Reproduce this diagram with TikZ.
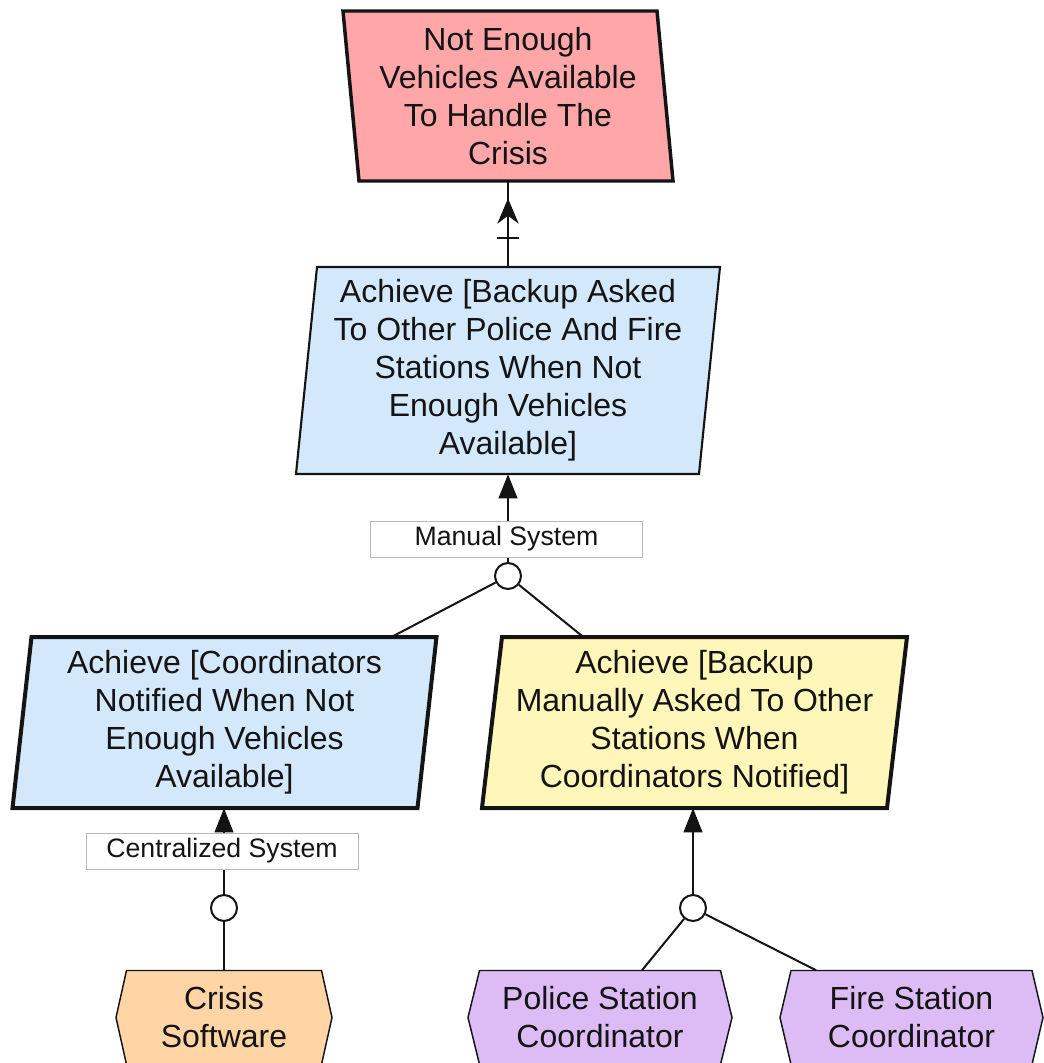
\documentclass[tikz,border=0pt]{standalone}
\usepackage{fontspec}
\setmainfont{Liberation Sans}
\usetikzlibrary{arrows.meta,calc,backgrounds,decorations.markings}

\definecolor{obstaclered}{RGB}{255,166,168}
\definecolor{goalblue}{RGB}{212,232,252}
\definecolor{expectyellow}{RGB}{255,246,186}
\definecolor{softorange}{RGB}{255,213,166}
\definecolor{agentpurple}{RGB}{221,187,245}
\definecolor{inkline}{RGB}{20,20,20}

% slanted box around a node: name, half width, half height, slant, style
\newcommand{\slantshape}[5]{%
  \path[#5] ($(#1)+({-(#2)+(#4)},{-(#3)})$) -- ($(#1)+({(#2)+(#4)},{-(#3)})$)
    -- ($(#1)+({(#2)-(#4)},{#3})$) -- ($(#1)+({-(#2)-(#4)},{#3})$) -- cycle;}
% agent hexagon around a node: name, half top width, half point width, half height, style
\newcommand{\hexshape}[5]{%
  \path[#5] ($(#1)+({-(#2)},{-(#4)})$) -- ($(#1)+({#2},{-(#4)})$) -- ($(#1)+({#3},0)$)
    -- ($(#1)+({#2},{#4})$) -- ($(#1)+({-(#2)},{#4})$) -- ($(#1)+({-(#3)},0)$) -- cycle;}

\tikzset{
  boxtext/.style={inner sep=0pt, align=center, text=inkline,
    font=\fontsize{24}{28.5}\selectfont},
  conn/.style={line width=1.5pt, draw=inkline},
  refcircle/.style={circle, draw=inkline, line width=1.5pt, fill=white,
    minimum size=19.5pt, inner sep=0pt},
  reflabel/.style={draw=black!28, line width=0.75pt, fill=white, inner sep=0pt,
    minimum width=204pt, minimum height=27pt, text=inkline,
    font=\fontsize{20}{24}\selectfont},
  filltip/.style={-{Triangle[length=18pt,width=14pt]}},
  obstructlink/.style={postaction={decorate}, decoration={markings,
    mark=at position 0.80 with {\arrow[line width=1pt]{Stealth[length=19pt,width=16pt,inset=6pt]}},
    mark=at position 0.337 with {\draw[line width=1.5pt,draw=inkline] (0pt,-8.6pt) -- (0pt,8.6pt);}}},
}

\begin{document}
\begin{tikzpicture}[x=0.75pt,y=-0.75pt]
\useasboundingbox (0,0) rectangle (1044,1063);
\clip (0,0) rectangle (1044,1063);

% obstacle
\node[boxtext, minimum width={314*0.75pt}, minimum height={170*0.75pt}] (obs) at (508,96)
  {Not Enough\\Vehicles Available\\To Handle The\\Crisis};
% goals
\node[boxtext, minimum width={403*0.75pt}, minimum height={207*0.75pt}] (g1) at (508,370.5)
  {Achieve [Backup Asked\\To Other Police And Fire\\Stations When Not\\Enough Vehicles\\Available]};
\node[boxtext, minimum width={405*0.75pt}, minimum height={171*0.75pt}] (g2) at (224.5,722.5)
  {Achieve [Coordinators\\Notified When Not\\Enough Vehicles\\Available]};
\node[boxtext, minimum width={405*0.75pt}, minimum height={171*0.75pt}] (g3) at (694.5,722.5)
  {Achieve [Backup\\Manually Asked To Other\\Stations When\\Coordinators Notified]};
% agents
\node[boxtext, minimum width={195*0.75pt}, minimum height={94*0.75pt}] (soft) at (224,1017.5)
  {Crisis\\Software};
\node[boxtext, minimum width={241*0.75pt}, minimum height={94*0.75pt}] (police) at (600,1017.5)
  {Police Station\\Coordinator};
\node[boxtext, minimum width={241*0.75pt}, minimum height={94*0.75pt}] (fire) at (911.5,1017.5)
  {Fire Station\\Coordinator};

\begin{pgfonlayer}{background}
  \slantshape{obs}{157}{85}{-8}{draw=inkline, fill=obstaclered, line width=2.6pt, line join=miter}
  \slantshape{g1}{201.5}{103.5}{10.5}{draw=inkline, fill=goalblue, line width=1.6pt}
  \slantshape{g2}{202.5}{85.5}{9.5}{draw=inkline, fill=goalblue, line width=3pt}
  \slantshape{g3}{202.5}{85.5}{10}{draw=inkline, fill=expectyellow, line width=3pt}
  \hexshape{soft}{97.5}{108}{47}{draw=inkline, fill=softorange, line width=1.1pt}
  \hexshape{police}{120.5}{132}{47}{draw=inkline, fill=agentpurple, line width=1.1pt}
  \hexshape{fire}{120.5}{131.5}{47}{draw=inkline, fill=agentpurple, line width=1.1pt}
\end{pgfonlayer}

% refinement circles
\node[refcircle] (r1) at (508,576) {};
\node[refcircle] (r2) at (224,908) {};
\node[refcircle] (r3) at (693,908) {};

% attachment points on box edges
\coordinate (g2in) at ($(g2.north)+(167.5,0)$);
\coordinate (g3in) at ($(g3.north)+(-111.5,0)$);
\coordinate (pin) at ($(police.north)+(42,0)$);
\coordinate (fin) at ($(fire.north)+(-95.5,0)$);

% obstruction link
\draw[conn, obstructlink] (g1.north) -- (obs.south);
% refinements
\draw[conn, filltip] (r1.north) -- (r1.north |- g1.south);
\draw[conn] (r1) -- (g2in);
\draw[conn] (r1) -- (g3in);
\draw[conn, filltip] (r2.north) -- (r2.north |- g2.south);
\draw[conn] (r2.south) -- (soft.north);
\draw[conn, filltip] (r3.north) -- (r3.north |- g3.south);
\draw[conn] (r3) -- (pin);
\draw[conn] (r3) -- (fin);

% alternative labels
\node[reflabel] (l1) at (506.5,539) {Manual System};
\node[reflabel] (l2) at (222,851) {Centralized System};
\end{tikzpicture}
\end{document}
